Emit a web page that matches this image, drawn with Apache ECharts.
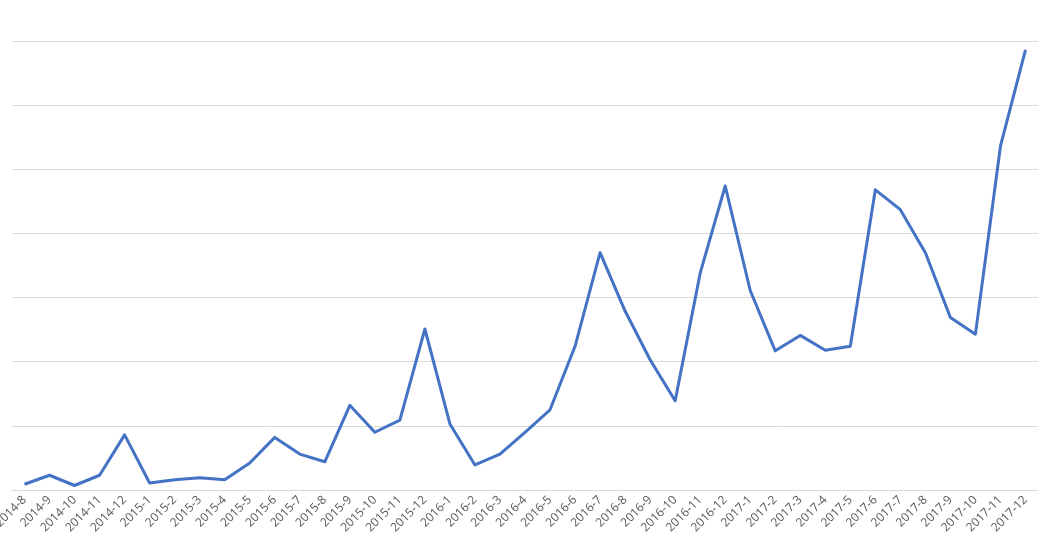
<!DOCTYPE html>
<html>
<head>
<meta charset="utf-8">
<script src="https://cdn.jsdelivr.net/npm/echarts@6/dist/echarts.min.js"></script>
<style>
html,body{margin:0;padding:0;background:#fff;}
#chart{width:1046px;height:536px;}
</style>
</head>
<body>
<div id="chart"></div>
<script>
const categories = ['2014-8','2014-9','2014-10','2014-11','2014-12','2015-1','2015-2','2015-3','2015-4','2015-5','2015-6','2015-7','2015-8','2015-9','2015-10','2015-11','2015-12','2016-1','2016-2','2016-3','2016-4','2016-5','2016-6','2016-7','2016-8','2016-9','2016-10','2016-11','2016-12','2017-1','2017-2','2017-3','2017-4','2017-5','2017-6','2017-7','2017-8','2017-9','2017-10','2017-11','2017-12'];
const values = [0.09,0.23,0.07,0.23,0.86,0.11,0.16,0.19,0.16,0.42,0.82,0.56,0.44,1.32,0.90,1.09,2.51,1.03,0.39,0.56,0.90,1.25,2.24,3.70,2.79,2.03,1.39,3.38,4.74,3.11,2.17,2.41,2.18,2.24,4.68,4.37,3.70,2.69,2.43,5.36,6.86];

const chart = echarts.init(document.getElementById('chart'), null, {renderer:'canvas'});
chart.setOption({
  animation: false,
  grid: {left: 12, right: 8, top: 41, bottom: 46, containLabel: false, outerBoundsMode: 'none'},
  xAxis: {
    type: 'category',
    data: categories,
    boundaryGap: true,
    axisLine: {lineStyle: {color: '#d9d9d9', width: 1}},
    axisTick: {show: false},
    axisLabel: {rotate: 45, fontSize: 12, color: '#595959', fontFamily: 'Open Sans', margin: 8, interval: 0, hideOverlap: false}
  },
  yAxis: {
    type: 'value',
    min: 0, max: 7, interval: 1,
    axisLabel: {show: false},
    axisLine: {show: false},
    axisTick: {show: false},
    splitLine: {lineStyle: {color: '#d9d9d9', width: 1}}
  },
  series: [{
    type: 'line',
    data: values,
    symbol: 'none',
    lineStyle: {color: '#4472C4', width: 3, join: 'round'},
    itemStyle: {color: '#4472C4'}
  }]
});
</script>
</body>
</html>
